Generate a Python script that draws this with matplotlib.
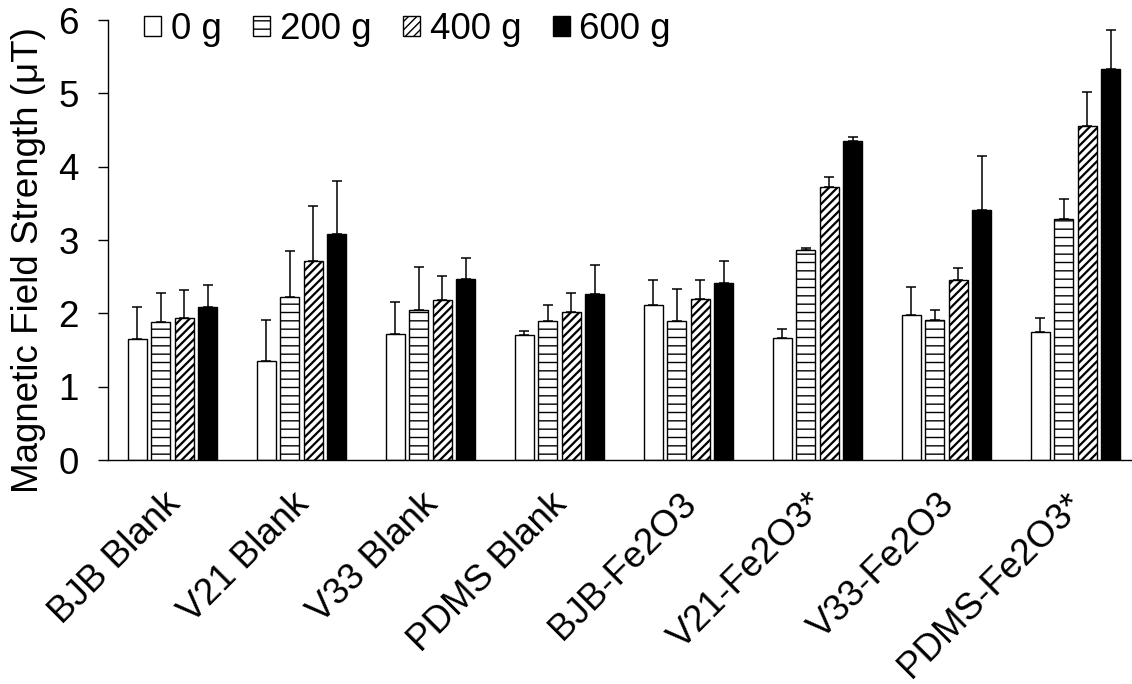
import matplotlib
matplotlib.use('Agg')
import matplotlib.pyplot as plt
import matplotlib.transforms as mtransforms
import numpy as np

plt.rcParams['font.family'] = ['Liberation Sans', 'DejaVu Sans']

# data
categories = ['BJB Blank', 'V21 Blank', 'V33 Blank', 'PDMS Blank',
              'BJB-Fe2O3', 'V21-Fe2O3*', 'V33-Fe2O3', 'PDMS-Fe2O3*']
loads = ['0 g', '200 g', '400 g', '600 g']

mean_0g = [1.65, 1.35, 1.72, 1.70, 2.12, 1.67, 1.98, 1.74]
sd_0g = [0.44, 0.56, 0.43, 0.06, 0.33, 0.11, 0.38, 0.19]
mean_200g = [1.88, 2.22, 2.05, 1.89, 1.90, 2.86, 1.91, 3.28]
sd_200g = [0.40, 0.63, 0.58, 0.22, 0.43, 0.03, 0.14, 0.28]
mean_400g = [1.94, 2.72, 2.18, 2.02, 2.19, 3.72, 2.46, 4.56]
sd_400g = [0.38, 0.75, 0.33, 0.26, 0.27, 0.14, 0.16, 0.46]
mean_600g = [2.08, 3.08, 2.47, 2.27, 2.41, 4.35, 3.41, 5.33]
sd_600g = [0.31, 0.73, 0.28, 0.39, 0.30, 0.06, 0.74, 0.54]

means = [mean_0g, mean_200g, mean_400g, mean_600g]
sds = [sd_0g, sd_200g, sd_400g, sd_600g]
fills = ['white', 'white', 'white', 'black']
hatches = [None, '--', '////', None]
hatch_lw = [1.0, 1.0, 1.6, 1.0]
fs = 26.5

fig = plt.figure(figsize=(11.32, 6.84), dpi=100)
ax = fig.add_axes([108 / 1132, 1 - 460 / 684, 1024 / 1132, 440 / 684])

x = np.arange(len(categories))
slot = 0.182
width = 0.147
for i in range(4):
    with plt.rc_context({'hatch.linewidth': hatch_lw[i]}):
        pos = x + (i - 1.5) * slot
        ax.bar(pos, means[i], width, color=fills[i], edgecolor='black',
               linewidth=1.0, hatch=hatches[i], label=loads[i], zorder=2)
        ax.errorbar(pos, means[i], yerr=[np.zeros(len(x)), sds[i]], fmt='none',
                    ecolor='black', elinewidth=1.1, capsize=3.5, capthick=1.1, zorder=1)

ax.set_xlim(-0.5, -0.5 + 1024 / 129)
ax.set_ylim(0, 6)
ax.set_yticks(range(7))
ax.tick_params(axis='y', labelsize=fs, length=7, width=1, direction='out', pad=14)
ax.tick_params(axis='x', length=0, labelsize=fs, pad=19)
ax.set_xticks(x)
ax.set_xticklabels(categories, rotation=45, ha='right', rotation_mode='anchor')
# nudge rotated labels like the reference
shift = mtransforms.ScaledTranslation(-10 / 100, 0, fig.dpi_scale_trans)
for lab in ax.get_xticklabels():
    lab.set_transform(lab.get_transform() + shift)
ax.set_ylabel('Magnetic Field Strength (μT)', fontsize=fs)
ax.yaxis.set_label_coords(-0.0605, 0.4545)

for s in ['top', 'right']:
    ax.spines[s].set_visible(False)
ax.spines['left'].set_linewidth(1.0)
ax.spines['bottom'].set_linewidth(1.0)

ax.legend(loc='upper left', bbox_to_anchor=(144 / 1132, 1 - 12 / 684),
          bbox_transform=fig.transFigure, ncol=4, frameon=False, fontsize=fs,
          handlelength=0.46, handleheight=0.46, handletextpad=0.27,
          columnspacing=0.85, borderaxespad=0, borderpad=0)

fig.savefig('out.png', dpi=100)
